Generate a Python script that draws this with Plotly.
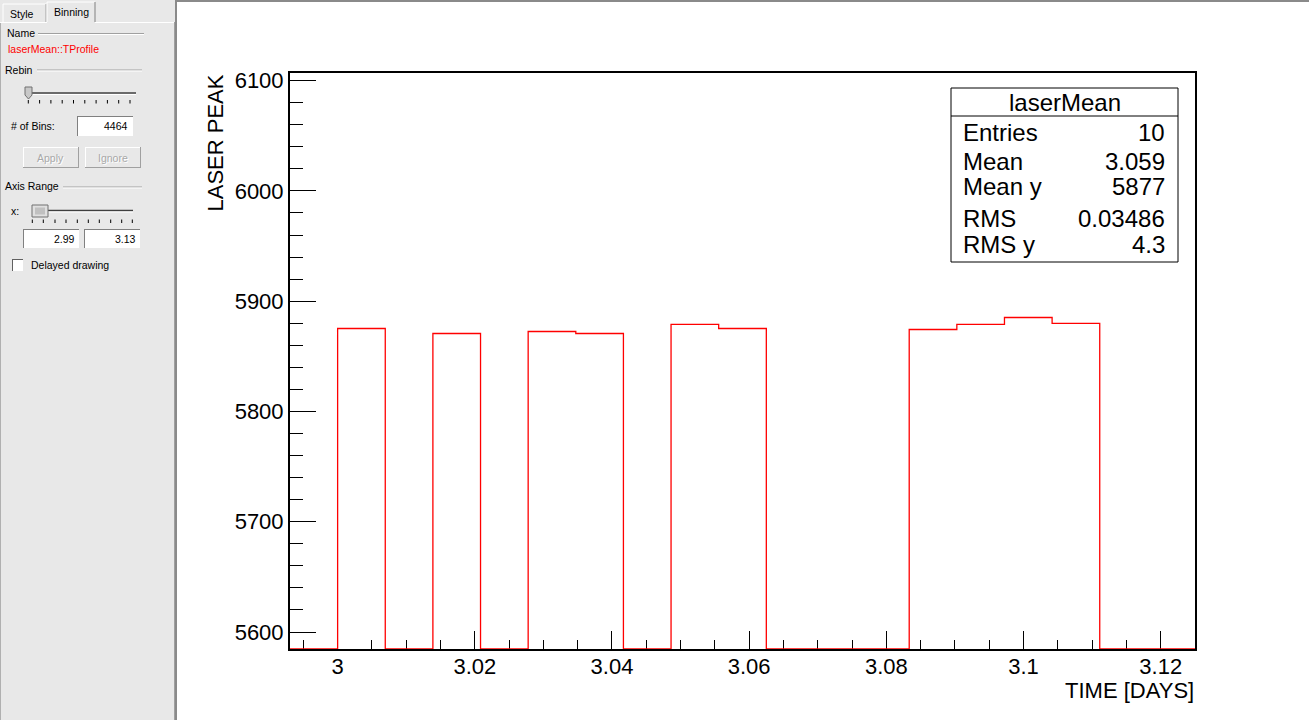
import plotly.graph_objects as go

# ---------------- data ----------------
# TProfile "laserMean": 4464 bins of 1/144 day; visible bins 431..449
bins_per_day = 144
bin_numbers = list(range(431, 450))
# mean laser peak per bin (None = empty bin)
profile_mean = [None, 5875.2, None, 5870.7, None, 5872.5, 5870.7, None,
                5878.9, 5875.2, None, None, None, 5874.3, 5878.9, 5885.2,
                5879.8, None, None]

x_range = [431 / 144, 450 / 144]
y_range = [5584.6, 6106.9]

stats_title = "laserMean"
stats_labels = ["Entries", "Mean", "Mean y", "RMS", "RMS y"]
stats_values = ["10", "3.059", "5877", "0.03486", "4.3"]

x_title = "TIME [DAYS]"
y_title = "LASER PEAK"

# ---------------- geometry helpers ----------------
W, H = 1309, 720
L, R, T, B = 290, 1195, 73, 649


def px(x):
    return (x - L) / (R - L)


def py(y):
    return (B - y) / (B - T)


# ---------------- histogram outline (step line) ----------------
edges = [n / bins_per_day for n in bin_numbers] + [(bin_numbers[-1] + 1) / bins_per_day]
vals = [v if v is not None else y_range[0] for v in profile_mean]
step_y = vals + [vals[-1]]

fig = go.Figure()
fig.add_trace(go.Scatter(x=edges, y=step_y, mode="lines", line_shape="hv",
                         line=dict(color="#ff0000", width=1.3),
                         hoverinfo="skip", showlegend=False))

shapes = []
ann = []

SB_FONT = dict(family="Liberation Sans, Arial, sans-serif", size=10.5, color="black")


def rect(x0, y0, x1, y1, fill=None, line=None, lw=1):
    shapes.append(dict(type="rect", xref="paper", yref="paper",
                       x0=px(x0), x1=px(x1), y0=py(y0), y1=py(y1),
                       fillcolor=fill if fill else "rgba(0,0,0,0)",
                       line=dict(color=line if line else "rgba(0,0,0,0)", width=lw if line else 0)))


def seg(x0, y0, x1, y1, color, lw=1):
    shapes.append(dict(type="line", xref="paper", yref="paper",
                       x0=px(x0), x1=px(x1), y0=py(y0), y1=py(y1),
                       line=dict(color=color, width=lw)))


def text(x, y, s, xa="left", font=None, angle=0, ya="middle"):
    ann.append(dict(x=px(x), y=py(y), xref="paper", yref="paper", text=s,
                    showarrow=False, xanchor=xa, yanchor=ya, textangle=angle,
                    font=font if font else SB_FONT, borderpad=0))


# ---------------- sidebar (ROOT editor panel) ----------------
rect(0, 0, 176, 720, fill="#e8e8e8")
seg(176, 0, 176, 720, "#8a8a8a", 2)
seg(176, 1, 1309, 1, "#8a8a8a", 2)
seg(0.5, 22, 0.5, 720, "#b0b0b0", 1)
# tabs
rect(3, 4, 46, 22, fill="#e8e8e8")
seg(3, 4, 46, 4, "white", 1)
seg(3, 4, 3, 22, "white", 1)
seg(46, 4, 46, 22, "#a0a0a0", 1)
text(9, 14, "Style")
rect(47, 2, 95, 22, fill="#e8e8e8")
seg(47, 2, 95, 2, "white", 1)
seg(47, 2, 47, 22, "white", 1)
seg(95, 2, 95, 22, "#808080", 1)
text(53, 12, "Binning")
seg(0, 22.5, 47, 22.5, "white", 1)
seg(95, 22.5, 175, 22.5, "white", 1)
seg(174.5, 22, 174.5, 720, "#a0a0a0", 1)


def separator(x0, x1, y):
    seg(x0, y, x1, y, "#a0a0a0", 1)
    seg(x0, y + 1, x1, y + 1, "white", 1)


text(6, 33, "Name")
separator(38, 144, 33.5)
text(7, 49, "laserMean::TProfile", font=dict(family=SB_FONT["family"], size=10.5, color="#ff0000"))
text(4, 70, "Rebin")
separator(37, 142, 70)
# rebin slider
seg(28, 93, 136, 93, "#404040", 1.5)
seg(28, 94.5, 136, 94.5, "white", 1)
for tx in [28.3, 39.6, 50.9, 62.2, 73.5, 84.8, 96.1, 107.4, 118.7, 130]:
    seg(tx, 100, tx, 103.5, "black", 1)
shapes.append(dict(type="path", xref="paper", yref="paper",
                   path="M {a},{b} L {c},{b} L {c},{d} L {e},{f} L {a},{d} Z".format(
                       a=px(25), b=py(87), c=px(32), d=py(95), e=px(28.5), f=py(99)),
                   fillcolor="#c8c8c8", line=dict(color="#707070", width=1)))
text(10, 126, "# of Bins:")
rect(77, 116, 133, 136, fill="white")
seg(77, 116.5, 133, 116.5, "#808080", 1)
seg(77.5, 116, 77.5, 136, "#808080", 1)
text(129, 126, "4464", xa="right")
# buttons
for bx0, bx1, lbl in [(23, 79, "Apply"), (85, 141, "Ignore")]:
    rect(bx0, 147, bx1, 168, fill="#e8e8e8")
    seg(bx0, 147.5, bx1, 147.5, "white", 1)
    seg(bx0 + 0.5, 147, bx0 + 0.5, 168, "white", 1)
    seg(bx0, 167.5, bx1, 167.5, "#a0a0a0", 1)
    seg(bx1 - 0.5, 147, bx1 - 0.5, 168, "#a0a0a0", 1)
    text((bx0 + bx1) / 2 + 0.8, 158.8, lbl, xa="center",
         font=dict(family=SB_FONT["family"], size=10.5, color="white"))
    text((bx0 + bx1) / 2, 158, lbl, xa="center",
         font=dict(family=SB_FONT["family"], size=10.5, color="#a8a8a8"))
text(4, 186, "Axis Range")
separator(63, 142, 187)
# axis range slider
text(10, 211, "x:")
seg(43, 210.5, 133, 210.5, "#404040", 1.5)
seg(43, 212, 133, 212, "white", 1)
for tx in [32.3, 43.3, 55, 66, 77.3, 88.3, 99.3, 110.7, 121.7, 132.3]:
    seg(tx, 219.5, tx, 223, "black", 1)
rect(32, 205, 48, 217, fill="#e0e0e0", line="#707070", lw=1)
rect(35, 207.5, 45, 214.5, fill="#c0c0c0")
rect(23, 229, 79, 248, fill="white")
seg(23, 229.5, 79, 229.5, "#808080", 1)
seg(23.5, 229, 23.5, 248, "#808080", 1)
text(76, 239, "2.99", xa="right")
rect(84, 229, 140, 248, fill="white")
seg(84, 229.5, 140, 229.5, "#808080", 1)
seg(84.5, 229, 84.5, 248, "#808080", 1)
text(137, 239, "3.13", xa="right")
# checkbox
rect(12, 259, 23, 271, fill="white")
seg(12, 259.5, 23, 259.5, "#606060", 1)
seg(12.5, 259, 12.5, 271, "#606060", 1)
text(30, 265, "Delayed drawing")

# ---------------- statistics box ----------------
SF = dict(family="Liberation Sans, Arial, sans-serif", size=24, color="black")
rect(951, 88, 1178, 262, fill="white", line="black", lw=1)
seg(951, 116, 1178, 116, "black", 1)
text(1064.5, 102.5, stats_title, xa="center", font=SF)
row_y = [132, 161, 187, 218, 244]
for yy, lb, vv in zip(row_y, stats_labels, stats_values):
    text(962, yy, lb, font=SF)
    text(1166, yy, vv, xa="right", font=SF)

# ---------------- axis titles ----------------
AF = dict(family="Liberation Sans, Arial, sans-serif", size=22, color="black")
text(1195, 690, x_title, xa="right", font=AF)
text(215, 74, y_title, xa="center", ya="top", font=AF, angle=-90)

fig.update_layout(
    width=W, height=H, autosize=False,
    margin=dict(l=L, r=W - R, t=T, b=H - B, pad=0),
    paper_bgcolor="white", plot_bgcolor="white",
    shapes=shapes, annotations=ann,
    font=dict(family="Liberation Sans, Arial, sans-serif", size=22, color="black"),
    xaxis=dict(range=x_range, showgrid=False, zeroline=False,
               showline=True, mirror=True, linecolor="black", linewidth=2,
               ticks="inside", ticklen=18, tickwidth=1, tickcolor="black",
               tick0=3, dtick=0.02, layer="below traces", ticklabelstandoff=-3,
               tickfont=dict(size=22, color="black"),
               minor=dict(ticks="inside", dtick=0.005, tick0=3, ticklen=9,
                          tickwidth=1, tickcolor="black", showgrid=False)),
    yaxis=dict(range=y_range, showgrid=False, zeroline=False,
               showline=True, mirror=True, linecolor="black", linewidth=2,
               ticks="inside", ticklen=26, tickwidth=1, tickcolor="black",
               tick0=5600, dtick=100, tickformat="d",
               tickfont=dict(size=22, color="black"),
               minor=dict(ticks="inside", dtick=20, tick0=5600, ticklen=13,
                          tickwidth=1, tickcolor="black", showgrid=False)),
)

fig.write_html("out.html", config={"displayModeBar": False},
               post_script="document.body.style.margin='0';document.body.style.overflow='hidden';")
